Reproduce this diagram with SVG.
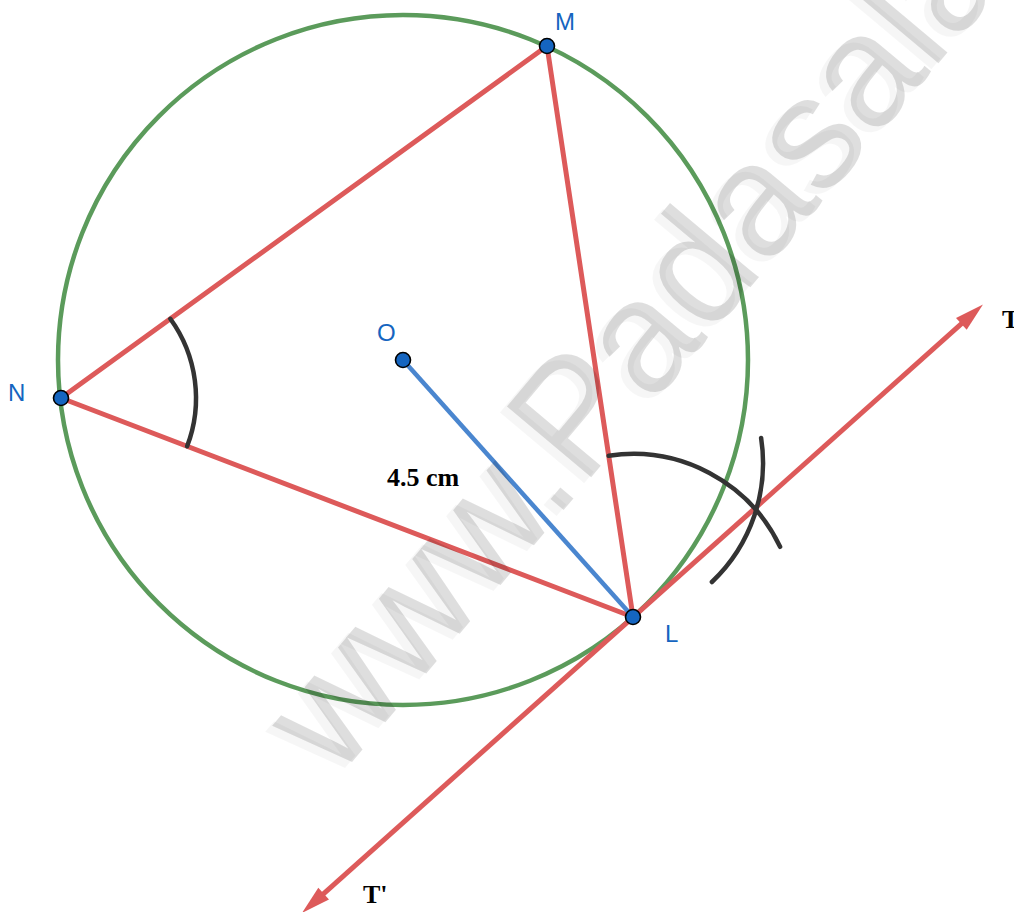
<svg xmlns="http://www.w3.org/2000/svg" width="1014" height="912" viewBox="0 0 1014 912">
<style>
.red{stroke:#dd5a5a;stroke-width:5;fill:none;stroke-linecap:round}
.arc{stroke:#333333;stroke-width:4.5;fill:none;stroke-linecap:round}
.pt{fill:#1565c0;stroke:#000;stroke-width:1.6}
.lbl{font-family:"Liberation Sans",Arial,sans-serif;font-size:24px;fill:#1565c0}
.bold{font-family:"Liberation Serif","Times New Roman",serif;font-size:26px;font-weight:bold;fill:#000}
.wm{font-family:"Liberation Sans",Arial,sans-serif;font-size:160px}
</style>
<defs>
<marker id="arr" markerUnits="userSpaceOnUse" markerWidth="30" markerHeight="18" viewBox="-2 -9 30 18" refX="0" refY="0" orient="auto-start-reverse">
<path d="M-1,-8 L28,0 L-1,8 Z" fill="#dd5a5a"/>
</marker>
</defs>
<rect width="1014" height="912" fill="#fff"/>
<g id="circle">
<circle cx="403" cy="360" r="345" fill="none" stroke="#5b9b5b" stroke-width="4.5"/>
</g>
<g id="connectors">
<line class="red" x1="61" y1="398" x2="547" y2="46"/>
<line class="red" x1="547" y1="46" x2="633" y2="617"/>
<line class="red" x1="61" y1="398" x2="633" y2="617"/>
<line x1="403" y1="360" x2="633" y2="617" stroke="#4a86cf" stroke-width="4.5"/>
<line id="tangent" x1="322.9" y1="894.3" x2="962.1" y2="323.2" stroke="#dd5a5a" stroke-width="5" marker-start="url(#arr)" marker-end="url(#arr)"/>
</g>
<g id="arcs">
<path class="arc" d="M170.3,318.8 A135,135 0 0 1 187.1,446.3"/>
<path class="arc" d="M608.7,455.8 A163,163 0 0 1 780.1,546.8"/>
<path class="arc" d="M761.1,437.9 A164,164 0 0 1 711.9,582"/>
</g>
<g id="node-M"><circle class="pt" cx="547" cy="46" r="7.5"/><text class="lbl" x="555" y="30">M</text></g>
<g id="node-N"><circle class="pt" cx="61" cy="398" r="7.5"/><text class="lbl" x="8" y="401">N</text></g>
<g id="node-O"><circle class="pt" cx="403" cy="360" r="7.5"/><text class="lbl" x="377" y="341">O</text></g>
<g id="node-L"><circle class="pt" cx="633" cy="617" r="7.5"/><text class="lbl" x="665" y="642">L</text></g>
<g id="labels">
<text class="bold" x="387" y="486">4.5 cm</text>
<text class="bold" x="1002" y="328">T</text>
<text class="bold" x="363" y="903">T'</text>
</g>
<g id="watermark">
<text class="wm" transform="translate(330,786) rotate(-50)" fill="#000" fill-opacity="0.035">www.Padasalai.Net</text>
<text class="wm" transform="translate(337,780) rotate(-50)" fill="#000" fill-opacity="0.13">www.Padasalai.Net</text>
</g>
</svg>
